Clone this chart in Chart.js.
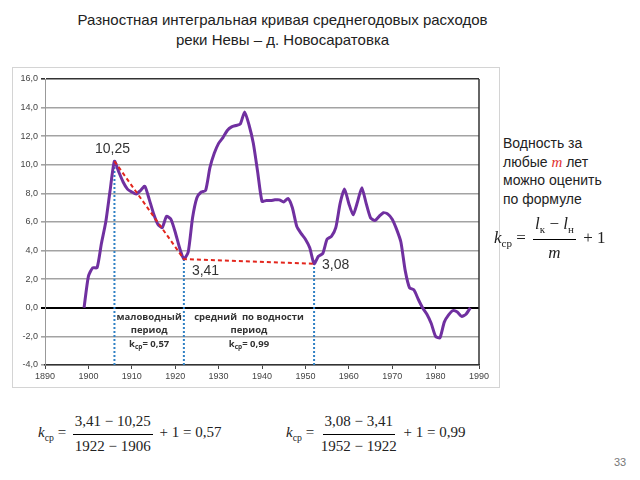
<!DOCTYPE html>
<html>
<head>
<meta charset="utf-8">
<script src="https://cdn.jsdelivr.net/npm/chart.js@4.4.1/dist/chart.umd.min.js"></script>
<style>
  body { margin: 0; width: 640px; height: 480px; background: #fff; position: relative; overflow: hidden;
         font-family: "Liberation Sans", Arial, sans-serif; color: #222; }
  .title { position: absolute; left: 0; top: 10px; width: 565px; text-align: center; font-size: 15px; line-height: 20px; }
  .box { position: absolute; left: 12px; top: 67px; width: 486px; height: 319px; border: 1px solid #d4d4d4; }
  .note { position: absolute; left: 503px; top: 134px; font-size: 14px; line-height: 18.5px; }
  .f { position: absolute; font-family: "Liberation Serif", "Times New Roman", serif; font-size: 15px; white-space: nowrap; }
  .frac { display: inline-flex; flex-direction: column; align-items: center; vertical-align: middle; margin: 0 3px; }
  .frac span:first-child { border-bottom: 1px solid #000; padding: 0 2px 4px; }
  .frac span:last-child { padding-top: 3px; }
  sub { font-size: 65%; }
  .pg { position: absolute; left: 614px; top: 456px; font-size: 11px; color: #777; }
</style>
</head>
<body>
<div class="title">Разностная интегральная кривая среднегодовых расходов<br>реки Невы – д. Новосаратовка</div>
<div class="box"><canvas id="chart" width="486" height="319"></canvas></div>
<div class="note">Водность за<br>любые <i style="color:#e03030;font-family:'Liberation Serif',serif;font-size:15px">m</i> лет<br>можно оценить<br>по формуле</div>
<div class="f" style="left:494px;top:214px;font-size:17px"><i>k</i><sub>ср</sub> = <span class="frac"><span><i>l</i><sub>к</sub> − <i>l</i><sub>н</sub></span><span><i>m</i></span></span> + 1</div>
<div class="f" style="left:38px;top:413px"><i>k</i><sub>ср</sub> = <span class="frac"><span>3,41 − 10,25</span><span>1922 − 1906</span></span> + 1 = 0,57</div>
<div class="f" style="left:286px;top:413px"><i>k</i><sub>ср</sub> = <span class="frac"><span>3,08 − 3,41</span><span>1952 − 1922</span></span> + 1 = 0,99</div>
<div class="pg">33</div>
<script>
// годы и ординаты разностной интегральной кривой
const years = [1899, 1900, 1901, 1902, 1903, 1904, 1905, 1906, 1907, 1908, 1909, 1910,
  1911, 1912, 1913, 1914, 1915, 1916, 1917, 1918, 1919, 1920, 1921, 1922, 1923, 1924,
  1925, 1926, 1927, 1928, 1929, 1930, 1931, 1932, 1933, 1934, 1935, 1936, 1937, 1938,
  1939, 1940, 1941, 1942, 1943, 1944, 1945, 1946, 1947, 1948, 1949, 1950, 1951, 1952,
  1953, 1954, 1955, 1956, 1957, 1958, 1959, 1960, 1961, 1962, 1963, 1964, 1965, 1966,
  1967, 1968, 1969, 1970, 1971, 1972, 1973, 1974, 1975, 1976, 1977, 1978, 1979, 1980,
  1981, 1982, 1983, 1984, 1985, 1986, 1987, 1988];
const values = [0.0, 2.2, 2.8, 2.8, 4.5, 6.0, 8.2, 10.25, 9.5, 8.8, 8.3, 8.1,
  7.95, 8.2, 8.5, 7.6, 6.6, 5.85, 5.6, 6.4, 6.2, 5.3, 4.2, 3.41, 3.9, 6.3,
  7.7, 8.1, 8.2, 9.8, 10.8, 11.5, 11.9, 12.4, 12.65, 12.75, 12.85, 13.7, 12.8, 11.5,
  9.5, 7.45, 7.5, 7.5, 7.55, 7.55, 7.4, 7.65, 7.0, 5.7, 5.2, 4.8, 4.2, 3.08,
  3.6, 3.8, 4.8, 5.0, 5.6, 7.3, 8.3, 7.3, 6.5, 7.4, 8.4, 7.3, 6.3, 6.1,
  6.4, 6.65, 6.55, 6.2, 5.5, 4.6, 2.6, 1.4, 1.25, 0.6, 0.0, -0.45, -1.1, -2.0,
  -2.1, -1.0, -0.5, -0.2, -0.3, -0.6, -0.45, 0.0];

// границы периодов
const periodYears = [1906, 1922, 1952];
const periodValues = [10.25, 3.41, 3.08];
const periodNames = [
  ['маловодный', 'период', 'kср= 0,57'],
  ['средний  по водности', 'период', 'kср= 0,99']
];

const yTicks = [-4, -2, 0, 2, 4, 6, 8, 10, 12, 14, 16];
const xTicks = [1890, 1900, 1910, 1920, 1930, 1940, 1950, 1960, 1970, 1980, 1990];

const fmt = v => v.toFixed(1).replace('.', ',');

const labelsPlugin = {
  id: 'labels',
  afterDatasetsDraw(chart) {
    const { ctx, chartArea, scales: { x, y } } = chart;
    ctx.save();
    // правая рамка
    ctx.strokeStyle = '#333';
    ctx.lineWidth = 1.5;
    ctx.beginPath();
    ctx.moveTo(chartArea.right, chartArea.top);
    ctx.lineTo(chartArea.right, chartArea.bottom);
    ctx.stroke();

    ctx.fillStyle = '#333';
    ctx.font = '14px "Liberation Sans", Arial';
    ctx.textBaseline = 'middle';
    periodYears.forEach((yr, i) => {
      const px = x.getPixelForValue(yr), py = y.getPixelForValue(periodValues[i]);
      const txt = String(periodValues[i]).replace('.', ',');
      if (i === 0) {
        ctx.textAlign = 'center';
        ctx.fillText(txt, px - 2, py - 12);
      } else {
        ctx.textAlign = 'left';
        ctx.fillText(txt, px + 8, py + (i === 1 ? 12 : 1));
      }
    });

    ctx.font = 'bold 9.5px "Open Sans", Arial';
    ctx.textAlign = 'center';
    periodNames.forEach((lines, i) => {
      const cx = x.getPixelForValue((periodYears[i] + periodYears[i + 1]) / 2);
      lines.forEach((t, j) => {
        const yy = y.getPixelForValue(0) + 9 + j * 13.5;
        if (t.startsWith('kср')) {
          const rest = t.slice(3);
          ctx.font = 'bold 9.5px "Open Sans", Arial';
          const wk = ctx.measureText('k').width;
          ctx.font = 'bold 6.5px "Open Sans", Arial';
          const ws = ctx.measureText('ср').width;
          ctx.font = 'bold 9.5px "Open Sans", Arial';
          const wr = ctx.measureText(rest).width;
          let sx = cx - (wk + ws + wr) / 2;
          ctx.textAlign = 'left';
          ctx.fillText('k', sx, yy);
          ctx.font = 'bold 6.5px "Open Sans", Arial';
          ctx.fillText('ср', sx + wk, yy + 3);
          ctx.font = 'bold 9.5px "Open Sans", Arial';
          ctx.fillText(rest, sx + wk + ws, yy);
          ctx.textAlign = 'center';
        } else {
          ctx.fillText(t, cx, yy);
        }
      });
    });
    ctx.restore();
  }
};

const blueLines = periodYears.map((yr, i) => ({
  data: [{ x: yr, y: yTicks[0] }, { x: yr, y: periodValues[i] }],
  borderColor: '#2f80c4',
  borderWidth: 2,
  borderDash: [2, 2],
  pointRadius: 0,
  order: 3
}));

new Chart(document.getElementById('chart'), {
  type: 'line',
  data: {
    datasets: [
      {
        data: periodYears.map((yr, i) => ({ x: yr, y: periodValues[i] })),
        borderColor: '#e3261d',
        borderWidth: 2,
        borderDash: [4, 3],
        pointRadius: 0,
        order: 0
      },
      {
        data: years.map((yr, i) => ({ x: yr, y: values[i] })),
        borderColor: '#7030a0',
        borderWidth: 3,
        tension: 0.2,
        pointRadius: 0,
        order: 1
      },
      ...blueLines
    ]
  },
  options: {
    responsive: false,
    animation: false,
    layout: { padding: { top: 11, right: 20, left: 0, bottom: 0 } },
    plugins: { legend: { display: false }, tooltip: { enabled: false } },
    scales: {
      x: {
        type: 'linear',
        min: xTicks[0],
        max: xTicks[xTicks.length - 1],
        afterBuildTicks: s => { s.ticks = xTicks.map(v => ({ value: v })); },
        afterFit: s => { s.height = 22; },
        ticks: { callback: v => String(v), color: '#444', font: { size: 9, family: '"Liberation Sans", Arial' }, padding: 2, maxRotation: 0 },
        grid: { drawOnChartArea: false, drawTicks: true, tickLength: 4, color: '#444' },
        border: { color: '#333', width: 1.5 }
      },
      y: {
        min: yTicks[0],
        max: yTicks[yTicks.length - 1],
        afterBuildTicks: s => { s.ticks = yTicks.map(v => ({ value: v })); },
        afterFit: s => { s.width = 32; },
        ticks: { callback: v => fmt(v), color: '#444', font: { size: 9, family: '"Liberation Sans", Arial' }, padding: 3 },
        grid: {
          tickLength: 4,
          color: c => c.tick && c.tick.value === 0 ? '#000' : (c.tick && c.tick.value === 16 ? '#333' : '#a3a3a3'),
          lineWidth: c => c.tick && c.tick.value === 0 ? 2 : 1.6
        },
        border: { color: '#999', width: 1 }
      }
    }
  },
  plugins: [labelsPlugin]
});
</script>
</body>
</html>
